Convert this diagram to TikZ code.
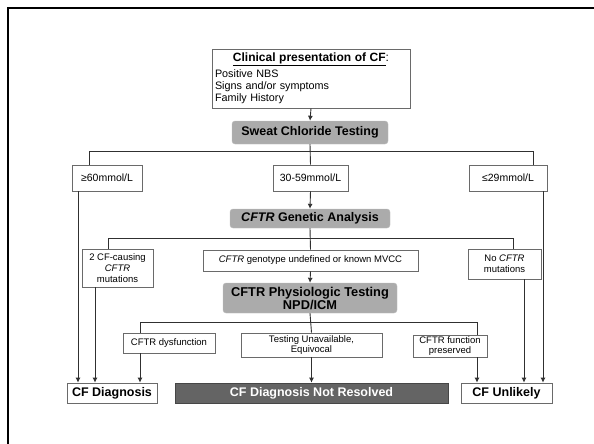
\documentclass[tikz,border=0pt]{standalone}
\usepackage{fontspec}
\setmainfont{Liberation Sans}
\usetikzlibrary{arrows.meta}
\definecolor{lineC}{HTML}{303030}
\definecolor{boxC}{HTML}{6A6A6A}
\definecolor{grayF}{HTML}{ABABAB}
\definecolor{darkF}{HTML}{646464}
\begin{document}
\begin{tikzpicture}[x=1pt,y=-1pt,
  box/.style={draw=boxC,line width=0.7pt,fill=white,inner sep=0pt,align=center,
    font=\fontsize{9.5}{11}\selectfont},
  gbox/.style={fill=grayF,draw=grayF!80!white,rounded corners=3pt,inner sep=0pt,align=center,
    font=\fontsize{12.5}{13.5}\selectfont\bfseries},
  endbox/.style={draw=boxC,line width=0.7pt,fill=white,inner sep=0pt,
    font=\fontsize{12.5}{13.5}\selectfont\bfseries},
  conn/.style={draw=lineC,line width=0.9pt},
  arr/.style={conn,-{Latex[length=5pt,width=5pt]}}
]
\useasboundingbox (0,0) rectangle (594,444);
\draw[line width=2pt,black] (7.5,444) -- (7.5,8) -- (594,8);

% nodes
\node[box,minimum width=198pt,minimum height=59pt,text width=192pt,align=left,
  font=\fontsize{10.8}{12.3}\selectfont] (clin) at (311,78.5)
  {\makebox[192pt]{\fontsize{12}{13}\selectfont\textbf{\underline{Clinical presentation of CF}}:}\\[2.5pt]
   Positive NBS\\ Signs and/or symptoms\\ Family History};
\node[gbox,minimum width=156pt,minimum height=23pt] (sweat) at (310,132.5) {Sweat Chloride Testing};
\node[box,minimum width=70pt,minimum height=26pt,font=\fontsize{10.5}{12}\selectfont] (hi) at (107,178) {≥60mmol/L};
\node[box,minimum width=75pt,minimum height=26pt,font=\fontsize{10.5}{12}\selectfont] (mid) at (310.5,178) {30-59mmol/L};
\node[box,minimum width=78pt,minimum height=26pt,font=\fontsize{10.5}{12}\selectfont] (lo) at (508,178) {≤29mmol/L};
\node[gbox,minimum width=160pt,minimum height=19pt] (gen) at (310,218.5) {\textit{CFTR} Genetic Analysis};
\node[box,minimum width=71pt,minimum height=38pt] (two) at (117.5,268) {2 CF-causing\\ \textit{CFTR}\\ mutations};
\node[box,minimum width=215pt,minimum height=21pt] (undef) at (310.5,260.5) {\textit{CFTR} genotype undefined or known MVCC};
\node[box,minimum width=73pt,minimum height=30pt] (nocftr) at (504.5,264) {No \textit{CFTR}\\ mutations};
\node[gbox,minimum width=174pt,minimum height=30pt,font=\fontsize{12.8}{13}\selectfont\bfseries] (phys) at (310,298) {CFTR Physiologic Testing\\ NPD/ICM};
\node[box,minimum width=92pt,minimum height=20pt] (dys) at (169,343) {CFTR dysfunction};
\node[box,minimum width=141pt,minimum height=24pt,font=\fontsize{9.5}{10.5}\selectfont] (unav) at (311.5,345) {Testing Unavailable,\\ Equivocal};
\node[box,minimum width=74pt,minimum height=22pt,font=\fontsize{9.5}{10.5}\selectfont] (pres) at (450,346) {CFTR function\\ preserved};
\node[endbox,minimum width=90pt,minimum height=20pt] (diag) at (112,393) {CF Diagnosis};
\node[endbox,fill=darkF,draw=darkF!70!black,text=white,minimum width=273pt,minimum height=20pt] (notres) at (311.5,393) {CF Diagnosis Not Resolved};
\node[endbox,minimum width=91pt,minimum height=20pt] (unlik) at (506.5,393) {CF Unlikely};

% bus coordinates
\coordinate (b1l) at (89,151);
\coordinate (b1r) at (533,151);
\coordinate (b2l) at (108,238);
\coordinate (b2r) at (513,238);
\coordinate (b3l) at (140,322);
\coordinate (b3r) at (477,322);
\coordinate (xa) at (78,0);
\coordinate (xb) at (95,0);
\coordinate (xc) at (524,0);
\coordinate (xd) at (543,0);

% connectors
\draw[arr] (clin.south) -- (sweat.north);
\draw[conn] (sweat.south) -- (mid.north);
\draw[conn] (hi.north -| b1l) -- (b1l) -- (b1r) -- (lo.north -| b1r);
\draw[arr] (mid.south) -- (gen.north);
\draw[conn] (gen.south) -- (undef.north);
\draw[conn] (two.north -| b2l) -- (b2l) -- (b2r) -- (nocftr.north -| b2r);
\draw[arr] (undef.south) -- (phys.north);
\draw[conn] (phys.south) -- (unav.north);
\draw[conn] (dys.north -| b3l) -- (b3l) -- (b3r) -- (pres.north -| b3r);
\draw[arr] (hi.south -| xa) -- (diag.north -| xa);
\draw[arr] (two.south -| xb) -- (diag.north -| xb);
\draw[arr] (dys.south -| b3l) -- (diag.north -| b3l);
\draw[arr] (unav.south) -- (notres.north);
\draw[arr] (pres.south -| b3r) -- (unlik.north -| b3r);
\draw[arr] (nocftr.south -| xc) -- (unlik.north -| xc);
\draw[arr] (lo.south -| xd) -- (unlik.north -| xd);
\end{tikzpicture}
\end{document}
